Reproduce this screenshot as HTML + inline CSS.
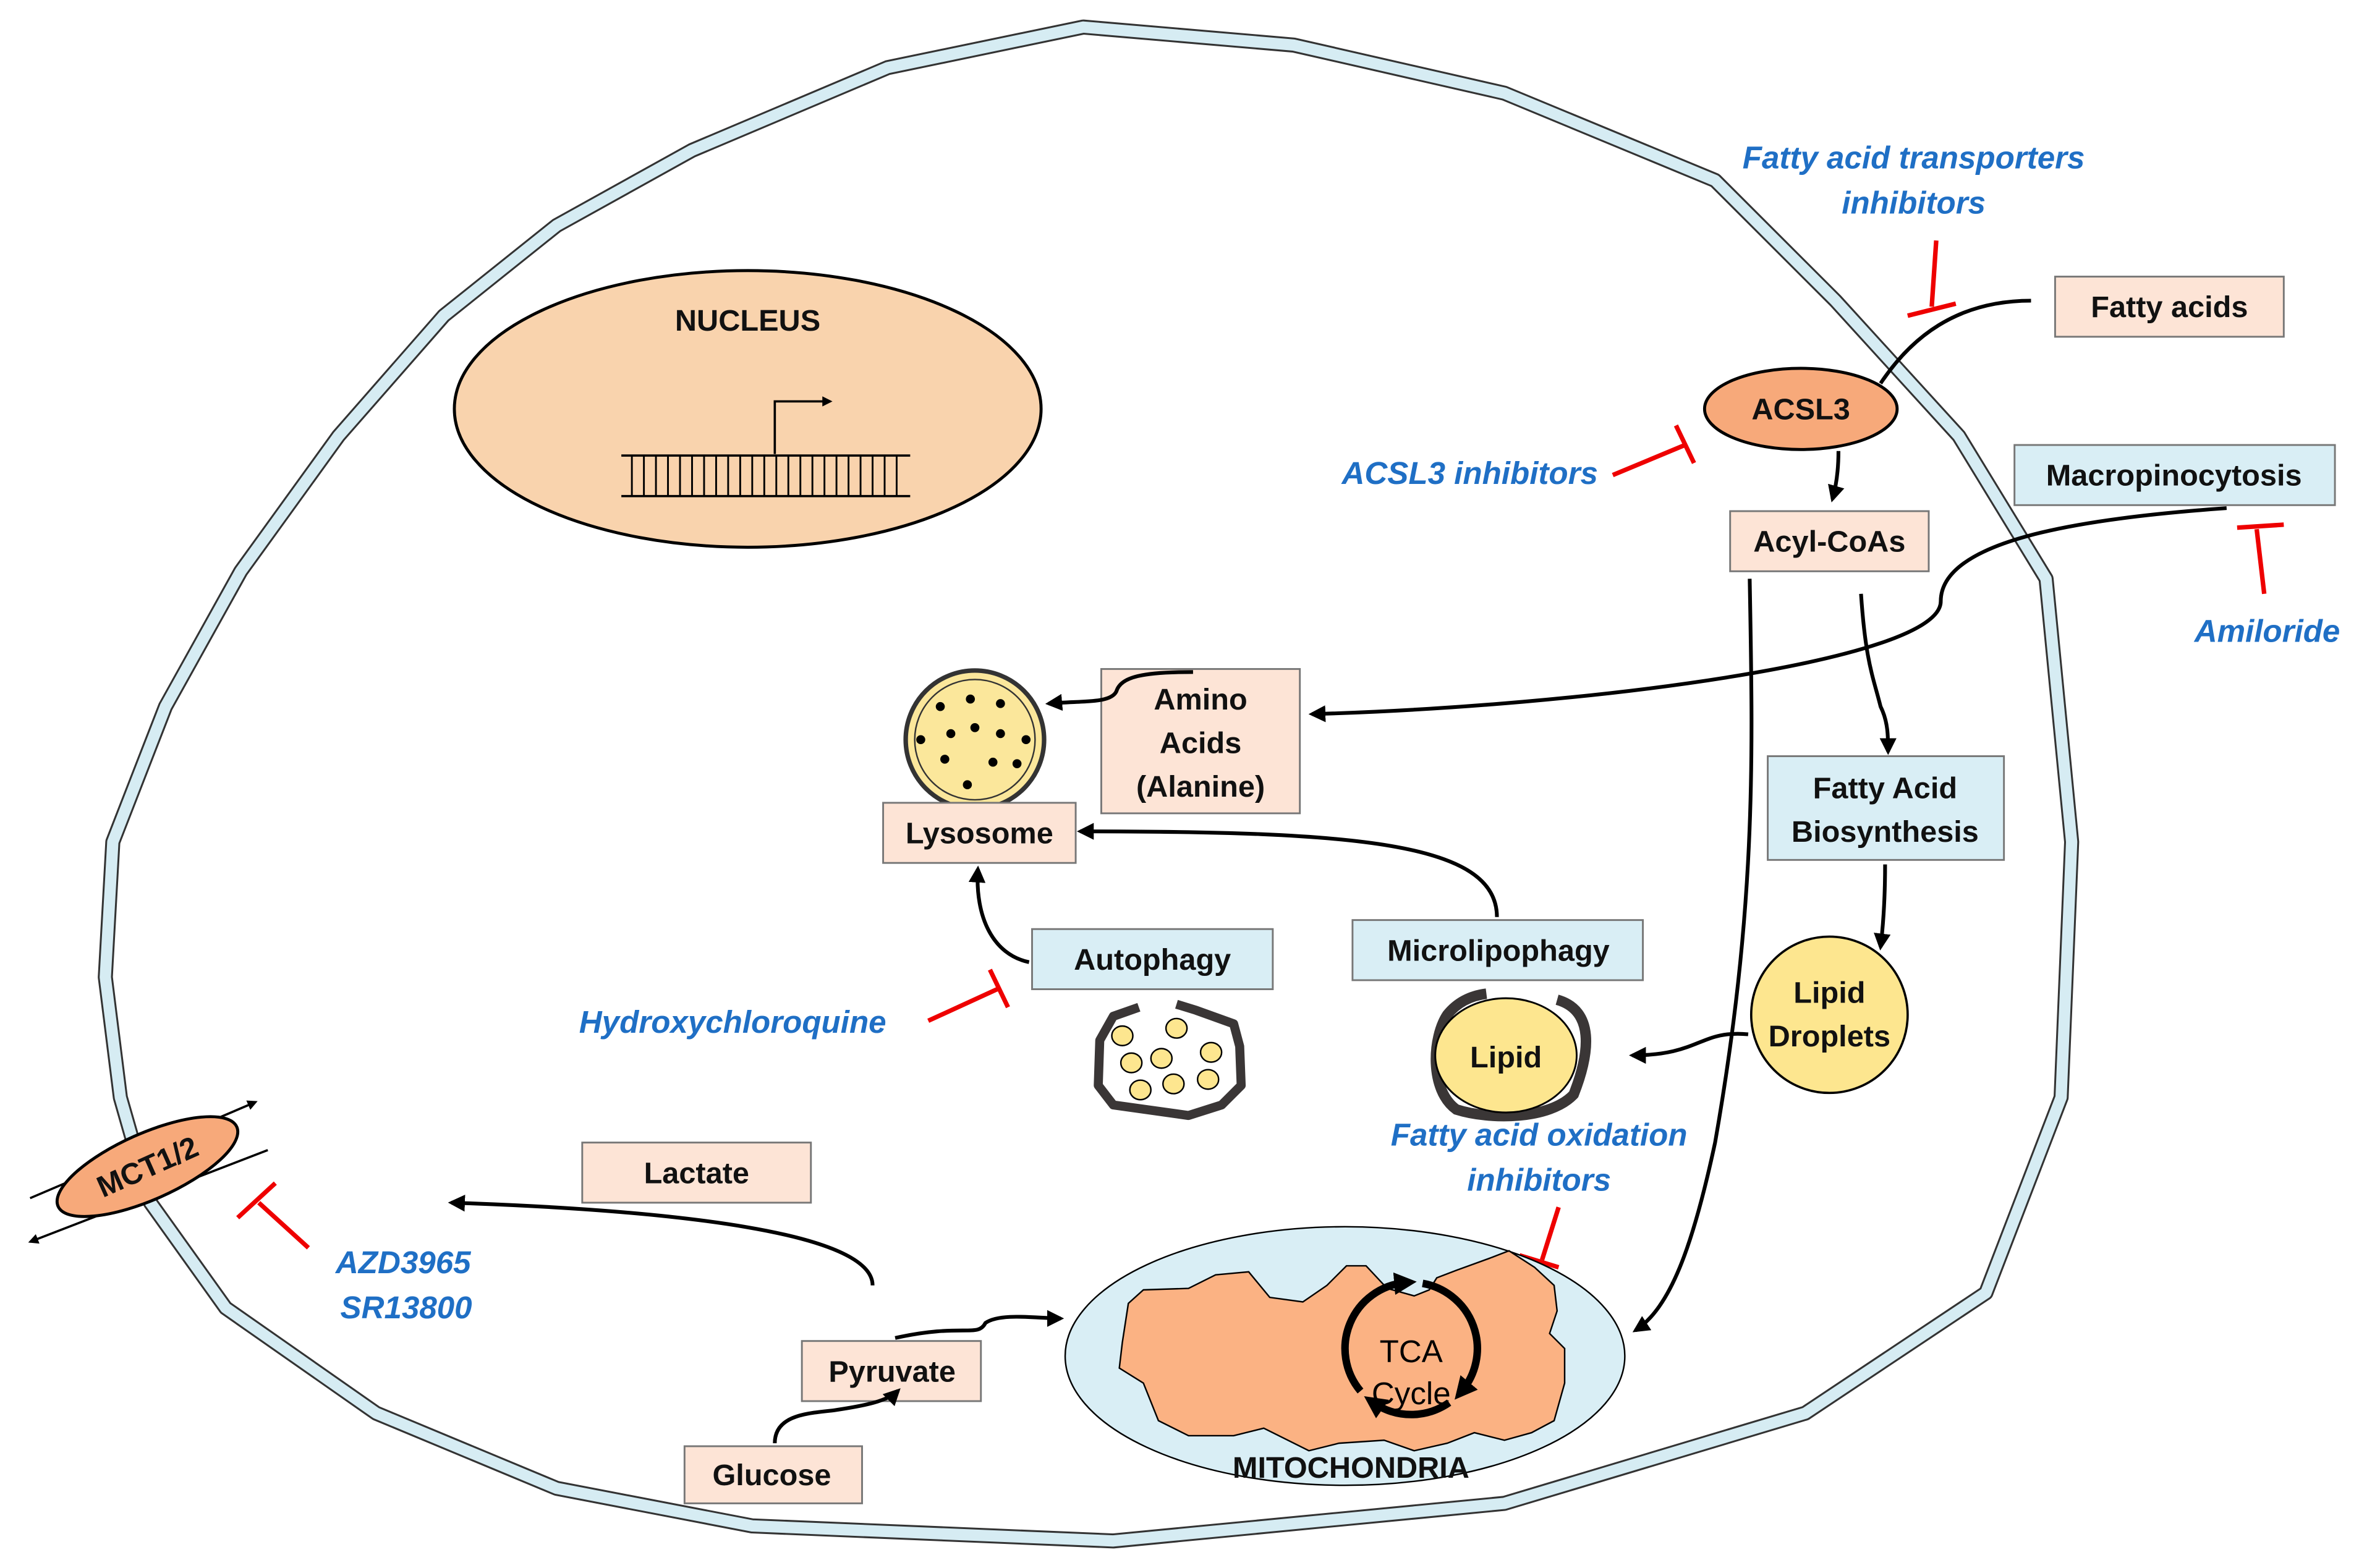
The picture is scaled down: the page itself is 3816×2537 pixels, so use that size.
<!DOCTYPE html>
<html><head><meta charset="utf-8"><style>
html,body{margin:0;padding:0;background:#fff;}
svg{display:block;}
text{font-family:"Liberation Sans",sans-serif;}
.b{font-weight:bold;font-size:20px;fill:#111;text-anchor:middle;}
.i{font-style:italic;font-weight:bold;font-size:21px;fill:#1f6fc5;text-anchor:middle;}
.bx{stroke:#777;stroke-width:1.2;}
.pk{fill:#fde4d6;}
.bl{fill:#d9eef5;}
.ar{fill:none;stroke:#000;stroke-width:2.5;marker-end:url(#ah);}
.rd{stroke:#e00;stroke-width:3;fill:none;}
</style></head><body>
<svg width="3816" height="2537" viewBox="0 0 1568 1043" preserveAspectRatio="none" xmlns="http://www.w3.org/2000/svg">
<defs>
<marker id="ah" viewBox="0 0 10 10" refX="8" refY="5" markerWidth="4.5" markerHeight="4.5" orient="auto"><path d="M0,0 L10,5 L0,10 z" fill="#000"/></marker>
<marker id="ah2" viewBox="0 0 10 10" refX="5" refY="5" markerWidth="3" markerHeight="3" orient="auto"><path d="M0,0 L10,5 L0,10 z" fill="#000"/></marker>
</defs>
<g fill="none" stroke-linejoin="round">
<polygon points="720,18 590,45 460,100 370,150 295,210 225,290 160,380 110,470 75,560 70,650 80,730 100,800 150,870 250,940 370,990 500,1015 740,1025 1000,1000 1200,940 1320,860 1370,730 1377,560 1360,385 1302,290 1220,200 1140,120 1000,62 860,30" stroke="#333" stroke-width="10"/>
<polygon points="720,18 590,45 460,100 370,150 295,210 225,290 160,380 110,470 75,560 70,650 80,730 100,800 150,870 250,940 370,990 500,1015 740,1025 1000,1000 1200,940 1320,860 1370,730 1377,560 1360,385 1302,290 1220,200 1140,120 1000,62 860,30" stroke="#d6ecf3" stroke-width="7.5"/>
</g>
<ellipse cx="497" cy="272" rx="195" ry="92" fill="#f9d3ad" stroke="#000" stroke-width="2"/>
<text class="b" x="497" y="220" font-size="19">NUCLEUS</text>
<line x1="413" y1="303" x2="605" y2="303" stroke="#000" stroke-width="1.5"/>
<line x1="413" y1="330" x2="605" y2="330" stroke="#000" stroke-width="1.5"/>
<g stroke="#000" stroke-width="1.2">
<path d="M420,303V330M428,303V330M436,303V330M444,303V330M452,303V330M460,303V330M468,303V330M476,303V330M484,303V330M492,303V330M500,303V330M508,303V330M516,303V330M524,303V330M532,303V330M540,303V330M548,303V330M556,303V330M564,303V330M572,303V330M580,303V330M588,303V330M596,303V330"/>
</g>
<path d="M515,302 V267 H552" fill="none" stroke="#000" stroke-width="1.5" marker-end="url(#ah)"/>
<text class="i" x="1272" y="112">Fatty acid transporters</text>
<text class="i" x="1272" y="142">inhibitors</text>
<path class="rd" d="M1287,160 L1284,204 M1268,210 L1300,202"/>
<rect class="bx pk" x="1366" y="184" width="152" height="40"/>
<text class="b" x="1442" y="211">Fatty acids</text>
<path d="M1350,200 C1300,200 1270,225 1250,255" fill="none" stroke="#000" stroke-width="2.5"/>
<ellipse cx="1197" cy="272" rx="64" ry="27" fill="#f7a97a" stroke="#000" stroke-width="2"/>
<text class="b" x="1197" y="279">ACSL3</text>
<text class="i" x="977" y="322">ACSL3 inhibitors</text>
<path class="rd" d="M1072,316 L1120,296 M1114,283 L1126,308"/>
<path class="ar" d="M1222,300 Q1222,318 1218,332"/>
<rect class="bx pk" x="1150" y="340" width="132" height="40"/>
<text class="b" x="1216" y="367">Acyl-CoAs</text>
<rect class="bx bl" x="1339" y="296" width="213" height="40"/>
<text class="b" x="1445" y="323">Macropinocytosis</text>
<text class="i" x="1507" y="427">Amiloride</text>
<path class="rd" d="M1505,395 L1500,352 M1487,351 L1518,349"/>
<path class="ar" d="M1480,338 C1380,345 1290,360 1290,400 C1290,440 1050,470 872,475"/>
<rect class="bx pk" x="732" y="445" width="132" height="96"/>
<text class="b" x="798" y="472">Amino</text>
<text class="b" x="798" y="501">Acids</text>
<text class="b" x="798" y="530">(Alanine)</text>
<circle cx="648" cy="492" r="46" fill="#fbe79b" stroke="#333" stroke-width="3"/>
<circle cx="648" cy="492" r="40" fill="none" stroke="#333" stroke-width="1"/>
<g fill="#000"><circle cx="625" cy="470" r="3"/><circle cx="645" cy="465" r="3"/><circle cx="665" cy="468" r="3"/><circle cx="612" cy="492" r="3"/><circle cx="632" cy="488" r="3"/><circle cx="648" cy="484" r="3"/><circle cx="665" cy="488" r="3"/><circle cx="682" cy="492" r="3"/><circle cx="628" cy="505" r="3"/><circle cx="660" cy="507" r="3"/><circle cx="676" cy="508" r="3"/><circle cx="643" cy="522" r="3"/></g>
<path class="ar" d="M793,447 C760,447 745,450 742,460 C738,468 720,466 697,468"/>
<rect class="bx pk" x="587" y="534" width="128" height="40"/>
<text class="b" x="651" y="561">Lysosome</text>
<rect class="bx bl" x="686" y="618" width="160" height="40"/>
<text class="b" x="766" y="645">Autophagy</text>
<path class="ar" d="M684,640 C660,635 648,610 650,578"/>
<rect class="bx bl" x="899" y="612" width="193" height="40"/>
<text class="b" x="996" y="639">Microlipophagy</text>
<path class="ar" d="M995,610 C995,560 900,553 718,553"/>
<text class="i" x="487" y="687">Hydroxychloroquine</text>
<path class="rd" d="M617,679 L665,657 M658,645 L670,670"/>
<!-- autophagosome -->
<path d="M757,670 L740,676 L731,692 L730,722 L740,735 L790,742 L812,735 L825,722 L824,696 L820,681 L795,672 L782,668" fill="#fff" stroke="#3a3636" stroke-width="6" stroke-linejoin="round"/>
<g fill="#fde68f" stroke="#000" stroke-width="1"><ellipse cx="746" cy="689" rx="7" ry="6.5"/><ellipse cx="782" cy="684" rx="7" ry="6.5"/><ellipse cx="752" cy="707" rx="7" ry="6.5"/><ellipse cx="772" cy="704" rx="7" ry="6.5"/><ellipse cx="805" cy="700" rx="7" ry="6.5"/><ellipse cx="758" cy="725" rx="7" ry="6.5"/><ellipse cx="780" cy="721" rx="7" ry="6.5"/><ellipse cx="803" cy="718" rx="7" ry="6.5"/></g>
<!-- microlipophagy lipid -->
<path d="M1035,665 C1060,672 1057,700 1046,728 C1030,745 990,745 968,738 C950,725 952,690 962,675 C970,665 980,662 988,661" fill="#fff" stroke="#3a3636" stroke-width="7"/>
<ellipse cx="1001" cy="702" rx="47" ry="38" fill="#fde68f" stroke="#000" stroke-width="1.2"/>
<text class="b" x="1001" y="710">Lipid</text>
<path class="ar" d="M1237,395 C1240,440 1245,450 1250,470 C1255,480 1255,490 1255,500"/>
<rect class="bx bl" x="1175" y="503" width="157" height="69"/>
<text class="b" x="1253" y="531">Fatty Acid</text>
<text class="b" x="1253" y="560">Biosynthesis</text>
<path class="ar" d="M1253,575 Q1253,605 1250,630"/>
<circle cx="1216" cy="675" r="52" fill="#fde68f" stroke="#000" stroke-width="1.5"/>
<text class="b" x="1216" y="667">Lipid</text>
<text class="b" x="1216" y="696">Droplets</text>
<path class="ar" d="M1162,688 C1130,685 1130,702 1085,702"/>
<text class="i" x="1023" y="762">Fatty acid oxidation</text>
<text class="i" x="1023" y="792">inhibitors</text>
<path class="rd" d="M1036,803 L1025,838 M1010,835 L1036,843"/>
<path class="ar" d="M1163,385 C1165,500 1168,600 1140,760 C1125,830 1110,870 1087,885"/>
<!-- mitochondria -->
<ellipse cx="894" cy="902" rx="186" ry="86" fill="#d9eef5" stroke="#000" stroke-width="1"/>
<path d="M746,893 L750,867 L760,858 L790,857 L808,848 L830,846 L844,863 L866,866 L882,855 L895,842 L908,842 L922,857 L940,862 L950,858 L955,850 L968,845 L990,837 L1003,832 L1020,843 L1033,855 L1035,872 L1030,887 L1040,897 L1040,920 L1033,945 L1018,953 L1000,958 L980,953 L962,960 L940,965 L920,958 L890,960 L870,965 L840,950 L820,955 L790,955 L770,945 L760,920 L744,910 Z" fill="#fbb283" stroke="#000" stroke-width="1"/>
<g fill="none" stroke="#000" stroke-width="5">
<path d="M945.6,853.7 A44,44 0 0 1 971.7,925.3" marker-end="url(#ah2)"/>
<path d="M963.2,933 A44,44 0 0 1 912.8,933" marker-end="url(#ah2)"/>
<path d="M904.3,925.3 A44,44 0 0 1 934.2,853.2" marker-end="url(#ah2)"/>
</g>
<text x="938" y="906" font-size="21" text-anchor="middle" fill="#000">TCA</text>
<text x="938" y="934" font-size="21" text-anchor="middle" fill="#000">Cycle</text>
<text class="b" x="898" y="983" font-size="19">MITOCHONDRIA</text>
<rect class="bx pk" x="455" y="962" width="118" height="38"/>
<text class="b" x="513" y="988">Glucose</text>
<rect class="bx pk" x="533" y="892" width="119" height="40"/>
<text class="b" x="593" y="919">Pyruvate</text>
<rect class="bx pk" x="387" y="760" width="152" height="40"/>
<text class="b" x="463" y="787">Lactate</text>
<path class="ar" d="M515,960 C515,940 540,940 555,938 C575,935 590,932 597,925"/>
<path class="ar" d="M595,890 C640,880 650,890 655,880 C665,873 690,877 705,877"/>
<path class="ar" d="M580,855 C580,820 450,805 300,800"/>
<line x1="20" y1="797" x2="170" y2="733" stroke="#000" stroke-width="1.5" marker-end="url(#ah)"/>
<line x1="178" y1="765" x2="20" y2="826" stroke="#000" stroke-width="1.5" marker-end="url(#ah)"/>
<ellipse cx="98" cy="776" rx="65" ry="22" transform="rotate(-24 98 776)" fill="#f7a97a" stroke="#000" stroke-width="2"/>
<text class="b" x="98" y="783" font-size="18" transform="rotate(-24 98 776)">MCT1/2</text>
<text class="i" x="268" y="847">AZD3965</text>
<text class="i" x="270" y="877">SR13800</text>
<path class="rd" d="M205,830 L172,800 M158,810 L183,787"/>
</svg>
</body></html>
